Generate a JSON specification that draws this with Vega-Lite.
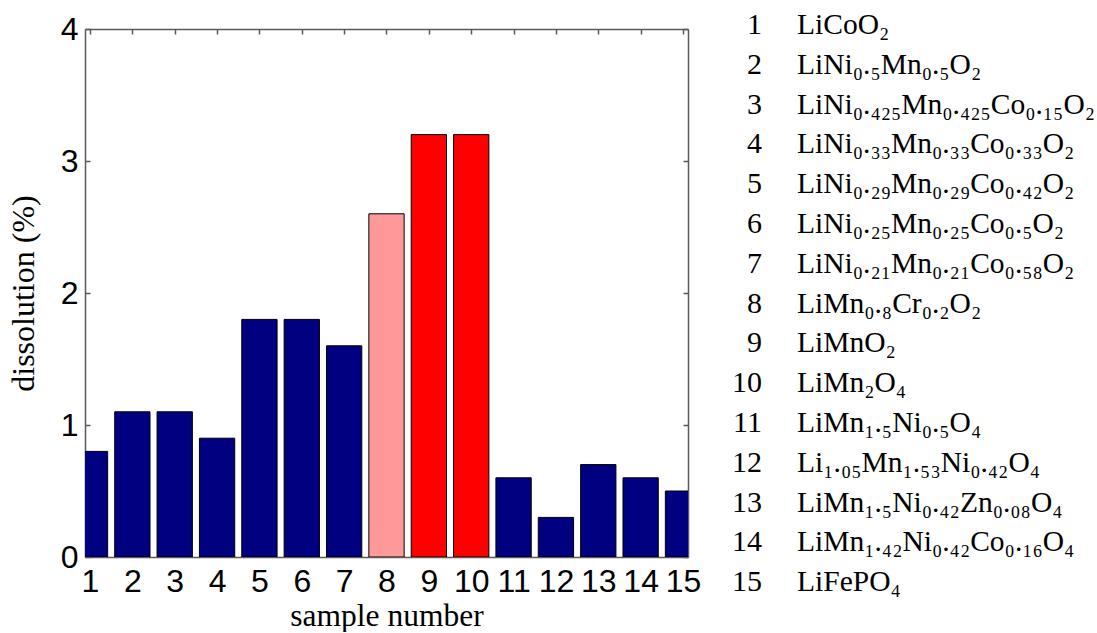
{
  "$schema": "https://vega.github.io/schema/vega-lite/v6.json",
  "padding": {"left": 7, "top": 9, "right": 0, "bottom": 0},
  "background": "white",
  "config": {"view": {"stroke": null}, "font": "Liberation Serif"},
  "datasets": {
    "samples": [
      {"n": 1, "dissolution": 0.8, "class": "other"},
      {"n": 2, "dissolution": 1.1, "class": "other"},
      {"n": 3, "dissolution": 1.1, "class": "other"},
      {"n": 4, "dissolution": 0.9, "class": "other"},
      {"n": 5, "dissolution": 1.8, "class": "other"},
      {"n": 6, "dissolution": 1.8, "class": "other"},
      {"n": 7, "dissolution": 1.6, "class": "other"},
      {"n": 8, "dissolution": 2.6, "class": "Cr-doped Mn oxide"},
      {"n": 9, "dissolution": 3.2, "class": "Mn oxide"},
      {"n": 10, "dissolution": 3.2, "class": "Mn oxide"},
      {"n": 11, "dissolution": 0.6, "class": "other"},
      {"n": 12, "dissolution": 0.3, "class": "other"},
      {"n": 13, "dissolution": 0.7, "class": "other"},
      {"n": 14, "dissolution": 0.6, "class": "other"},
      {"n": 15, "dissolution": 0.5, "class": "other"}
    ],
    "formulas": [
      {"n": 1, "formula": "LiCoO₂"},
      {"n": 2, "formula": "LiNi₀.₅Mn₀.₅O₂"},
      {"n": 3, "formula": "LiNi₀.₄₂₅Mn₀.₄₂₅Co₀.₁₅O₂"},
      {"n": 4, "formula": "LiNi₀.₃₃Mn₀.₃₃Co₀.₃₃O₂"},
      {"n": 5, "formula": "LiNi₀.₂₉Mn₀.₂₉Co₀.₄₂O₂"},
      {"n": 6, "formula": "LiNi₀.₂₅Mn₀.₂₅Co₀.₅O₂"},
      {"n": 7, "formula": "LiNi₀.₂₁Mn₀.₂₁Co₀.₅₈O₂"},
      {"n": 8, "formula": "LiMn₀.₈Cr₀.₂O₂"},
      {"n": 9, "formula": "LiMnO₂"},
      {"n": 10, "formula": "LiMn₂O₄"},
      {"n": 11, "formula": "LiMn₁.₅Ni₀.₅O₄"},
      {"n": 12, "formula": "Li₁.₀₅Mn₁.₅₃Ni₀.₄₂O₄"},
      {"n": 13, "formula": "LiMn₁.₅Ni₀.₄₂Zn₀.₀₈O₄"},
      {"n": 14, "formula": "LiMn₁.₄₂Ni₀.₄₂Co₀.₁₆O₄"},
      {"n": 15, "formula": "LiFePO₄"}
    ]
  },
  "spacing": 74,
  "bounds": "flush",
  "hconcat": [
    {
      "width": 603,
      "height": 528,
      "data": {"name": "samples"},
      "layer": [
        {
          "mark": {"type": "bar", "size": 35.3, "clip": true, "stroke": "#000000", "strokeWidth": 1},
          "encoding": {
            "x": {
              "field": "n", "type": "quantitative",
              "scale": {"domain": [1, 15], "nice": false, "zero": false},
              "axis": {
                "orient": "bottom",
                "values": [1, 2, 3, 4, 5, 6, 7, 8, 9, 10, 11, 12, 13, 14, 15],
                "format": "d", "grid": false,
                "domainColor": "#5a5a5a", "domainWidth": 1.5,
                "tickSize": -5, "tickColor": "#5a5a5a", "tickWidth": 1.5,
                "labelFont": "Liberation Sans", "labelFontSize": 32, "labelColor": "#000000",
                "labelPadding": 14, "labelFlush": false, "labelOverlap": false,
                "title": "sample number",
                "titleFont": "Liberation Serif", "titleFontSize": 31.5, "titleFontWeight": "normal",
                "titleColor": "#000000", "titlePadding": 3
              }
            },
            "y": {
              "field": "dissolution", "type": "quantitative",
              "scale": {"domain": [0, 4], "nice": false},
              "axis": {
                "orient": "left",
                "values": [0, 1, 2, 3, 4],
                "format": "d", "grid": false,
                "domainColor": "#5a5a5a", "domainWidth": 1.5,
                "tickSize": -5, "tickColor": "#5a5a5a", "tickWidth": 1.5,
                "labelFont": "Liberation Sans", "labelFontSize": 32, "labelColor": "#000000",
                "labelPadding": 12, "labelFlush": false,
                "title": "dissolution (%)",
                "titleFont": "Liberation Serif", "titleFontSize": 32, "titleFontWeight": "normal",
                "titleColor": "#000000", "titlePadding": 20
              }
            },
            "color": {
              "field": "class", "type": "nominal",
              "scale": {"domain": ["other", "Cr-doped Mn oxide", "Mn oxide"], "range": ["#000080", "#ff9999", "#ff0000"]},
              "legend": null
            }
          }
        },
        {
          "mark": {"type": "point", "opacity": 0},
          "encoding": {
            "x": {
              "field": "n", "type": "quantitative",
              "axis": {
                "orient": "top", "values": [1, 2, 3, 4, 5, 6, 7, 8, 9, 10, 11, 12, 13, 14, 15],
                "labels": false, "title": null, "grid": false,
                "domainColor": "#5a5a5a", "domainWidth": 1.5,
                "tickSize": -5, "tickColor": "#5a5a5a", "tickWidth": 1.5
              }
            },
            "y": {
              "field": "dissolution", "type": "quantitative",
              "axis": {
                "orient": "right", "values": [0, 1, 2, 3, 4],
                "labels": false, "title": null, "grid": false,
                "domainColor": "#5a5a5a", "domainWidth": 1.5,
                "tickSize": -5, "tickColor": "#5a5a5a", "tickWidth": 1.5
              }
            }
          }
        }
      ],
      "resolve": {"axis": {"x": "independent", "y": "independent"}}
    },
    {
      "width": 300,
      "height": 528,
      "data": {"name": "formulas"},
      "layer": [
        {
          "mark": {"type": "text", "align": "right", "baseline": "alphabetic", "font": "Liberation Serif", "fontSize": 30, "color": "#000000"},
          "encoding": {
            "x": {"datum": 0, "type": "quantitative", "scale": {"domain": [0, 1], "nice": false, "zero": false}, "axis": null},
            "y": {"field": "n", "type": "quantitative", "scale": {"domain": [0.8744, 14.141], "reverse": true, "nice": false, "zero": false}, "axis": null},
            "text": {"field": "n", "type": "quantitative"}
          }
        },
        {
          "mark": {"type": "text", "align": "left", "baseline": "alphabetic", "font": "Liberation Serif", "fontSize": 29.5, "color": "#000000"},
          "encoding": {
            "x": {"datum": 0.1167, "type": "quantitative", "axis": null},
            "y": {"field": "n", "type": "quantitative", "axis": null},
            "text": {"field": "formula", "type": "nominal"}
          }
        }
      ]
    }
  ]
}
